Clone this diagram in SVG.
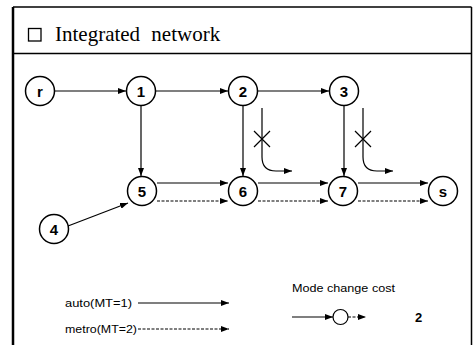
<svg xmlns="http://www.w3.org/2000/svg" width="473" height="345" viewBox="0 0 473 345">
<style>
.frame{fill:none;stroke:#000;stroke-width:1.5}
.node circle{fill:#fff;stroke:#000;stroke-width:1.5}
.node text{font-family:"Liberation Sans",Arial,sans-serif;font-weight:bold;font-size:15px;text-anchor:middle;fill:#000}
.auto{stroke:#000;stroke-width:1.2;fill:none;marker-end:url(#ah)}
.metro{stroke:#000;stroke-width:1.2;fill:none;stroke-dasharray:3 1.5;marker-end:url(#ah)}
.plain{stroke:#000;stroke-width:1.2;fill:none}
.lbl{font-family:"Liberation Sans",Arial,sans-serif;font-size:11px;fill:#000}
</style>
<defs>
<marker id="ah" markerUnits="userSpaceOnUse" markerWidth="8" markerHeight="6" refX="8" refY="3" orient="auto">
<path d="M0,0 L8,3 L0,6 z" fill="#000"/>
</marker>
</defs>
<rect width="473" height="345" fill="#fff"/>
<g id="frame">
<line class="frame" x1="13" y1="7" x2="471.5" y2="7"/>
<line x1="13" y1="7" x2="13" y2="345" stroke="#000" stroke-width="2.5"/>
<line class="frame" x1="471.5" y1="7" x2="471.5" y2="345"/>
<line class="frame" x1="13" y1="53.5" x2="471.5" y2="53.5"/>
<rect x="28.5" y="28.5" width="12.5" height="12.5" fill="none" stroke="#000" stroke-width="1.3"/>
<text x="55" y="41" font-family="Liberation Serif,Times New Roman,serif" font-size="21" word-spacing="6">Integrated network</text>
</g>
<g id="connectors">
<line class="auto" x1="55" y1="91" x2="126" y2="91"/>
<line class="auto" x1="156" y1="91" x2="228" y2="91"/>
<line class="auto" x1="258" y1="91" x2="329" y2="91"/>
<line class="auto" x1="141" y1="106" x2="141" y2="176"/>
<line class="auto" x1="243" y1="106" x2="243" y2="176"/>
<line class="auto" x1="344" y1="106" x2="344" y2="176"/>
<line class="auto" x1="68" y1="226" x2="128" y2="203"/>
<line class="auto" x1="157" y1="183" x2="228" y2="183"/>
<line class="metro" x1="157" y1="201" x2="228" y2="201"/>
<line class="auto" x1="258" y1="183" x2="328" y2="183"/>
<line class="metro" x1="258" y1="201" x2="328" y2="201"/>
<line class="auto" x1="358" y1="183" x2="428" y2="183"/>
<line class="metro" x1="358" y1="201" x2="428" y2="201"/>
<path class="auto" d="M262,108 V157 Q262,171 276,171 H292"/>
<path class="plain" d="M254,131 L270,147 M254,147 L270,131"/>
<path class="auto" d="M363,108 V157 Q363,171 377,171 H393"/>
<path class="plain" d="M355,131 L371,147 M355,147 L371,131"/>
</g>
<g id="node-r" class="node"><circle cx="40" cy="91" r="14.5"/><text x="40" y="96.5">r</text></g>
<g id="node-1" class="node"><circle cx="141" cy="91" r="14.5"/><text x="141" y="96.5">1</text></g>
<g id="node-2" class="node"><circle cx="243" cy="91" r="14.5"/><text x="243" y="96.5">2</text></g>
<g id="node-3" class="node"><circle cx="344" cy="91" r="14.5"/><text x="344" y="96.5">3</text></g>
<g id="node-4" class="node"><circle cx="54" cy="229" r="14.5"/><text x="54" y="234.5">4</text></g>
<g id="node-5" class="node"><circle cx="142" cy="191" r="14.5"/><text x="142" y="196.5">5</text></g>
<g id="node-6" class="node"><circle cx="243" cy="191" r="14.5"/><text x="243" y="196.5">6</text></g>
<g id="node-7" class="node"><circle cx="343" cy="191" r="14.5"/><text x="343" y="196.5">7</text></g>
<g id="node-s" class="node"><circle cx="443" cy="191" r="14.5"/><text x="443" y="196.5">s</text></g>
<g id="legend">
<text class="lbl" x="65" y="307" textLength="67" lengthAdjust="spacingAndGlyphs">auto(MT=1)</text>
<line class="auto" x1="138" y1="303" x2="229" y2="303"/>
<text class="lbl" x="65" y="333" textLength="72" lengthAdjust="spacingAndGlyphs">metro(MT=2)</text>
<line class="metro" x1="138" y1="329" x2="229" y2="329"/>
<text class="lbl" x="292" y="292" textLength="103" lengthAdjust="spacingAndGlyphs">Mode change cost</text>
<line class="auto" x1="292" y1="317" x2="333" y2="317"/>
<circle cx="340.5" cy="317" r="7.5" fill="#fff" stroke="#000" stroke-width="1.2"/>
<line class="metro" x1="348" y1="317" x2="366" y2="317"/>
<text x="415" y="322" font-family="Liberation Sans,Arial,sans-serif" font-weight="bold" font-size="13">2</text>
</g>
</svg>
